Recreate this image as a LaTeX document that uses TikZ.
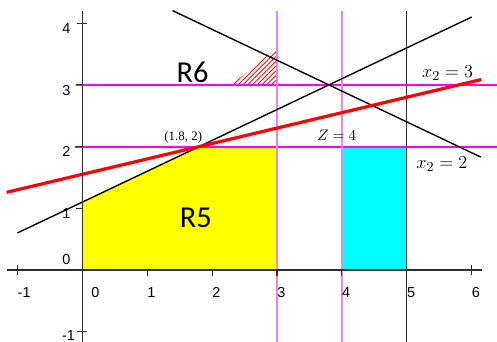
\documentclass[tikz,border=0pt]{standalone}
\usepackage{fontspec}
\usepackage{amsmath}
\usetikzlibrary{patterns.meta}
\newfontfamily\arialfont{Liberation Sans}
\newfontfamily\califont{Carlito}
\newfontfamily\timesfont{Liberation Serif}
\definecolor{linemagenta}{RGB}{255, 0, 255}
\definecolor{linepink}{RGB}{240, 130, 240}
\definecolor{regionyellow}{RGB}{255, 255, 0}
\definecolor{regioncyan}{RGB}{0, 255, 255}
\definecolor{axisgray}{RGB}{45, 45, 45}

\begin{document}
\begin{tikzpicture}[x=1.5cm, y=1.426cm,
				axisline/.style={axisgray, line width=0.7pt},
				bound/.style={black, line width=0.9pt},
				hline/.style={linemagenta, line width=1.2pt},
				vline/.style={linepink, line width=1.2pt},
				objline/.style={red, line width=2.1pt},
				ticklbl/.style={font=\arialfont\fontsize{9.5}{11}\selectfont, inner sep=0pt},
				regionlbl/.style={font=\califont\fontsize{20}{22}\selectfont},
				eqlbl/.style={font=\fontsize{12.5}{14}\selectfont}
				]
				\useasboundingbox (-1.268,-1.167) rectangle (6.390,4.376);
				\fill[regionyellow] (0,0) -- (3,0) -- (3,2) -- (1.8,2) -- (0,1.1) -- cycle;
				\filldraw[fill=regioncyan, draw=axisgray, line width=0.6pt] (4,0) rectangle (5,2);
				\fill[pattern={Lines[angle=45, distance=2.2pt, line width=0.6pt]}, pattern color=red]
				(2.3,3) -- (3,3) -- (3,3.6) -- cycle;
				\draw[hline] (-0.09,3) -- (6.39,3);
				\draw[hline] (-0.12,2) -- (6.39,2);
				\draw[vline] (3,4.2) -- (3,-1.167);
				\draw[vline] (4,4.2) -- (4,-1.167);
				\draw[axisline, line width=0.9pt] (5,4.2) -- (5,-1.167);
				\draw[bound] (-1,0.6) -- (6,4.1);
				\draw[bound] (1.39,4.205) -- (6.14,1.83);
				\draw[objline] (-1.165,1.259) -- (6.15,3.0875);
				\draw[axisline] (-1.16,0) -- (6.16,0);
				\draw[axisline] (0,-1.167) -- (0,4.2);
				\foreach \i in {1,2,3,4,5}
				\draw[axisline] (\i,0) -- (\i,-0.1);
				\foreach \i in {-1,6}
				\draw[axisline] (\i,0.08) -- (\i,-0.08);
				\foreach \j in {1,2,3}
				\draw[axisline] (0,\j) -- (-0.09,\j);
				\foreach \j in {-1,4}
				\draw[axisline] (0.08,\j) -- (-0.08,\j);
				\node[ticklbl, anchor=north west] (xm1) at (-1,-0.28) {-1};
				\node[ticklbl, anchor=north west] (x0) at (0.134,-0.28) {0};
				\foreach \i in {1,...,6}
				\node[ticklbl, anchor=north west] (x\i) at (\i,-0.28) {\i};
				\node[ticklbl, anchor=south east] (ym1) at (-0.11,-1.15) {-1};
				\node[ticklbl, anchor=north east] (y0) at (-0.18,0.25) {0};
				\foreach \j in {1,...,4}
				\node[ticklbl, anchor=north east] (y\j) at (-0.18,\j) {\j};
				\node[regionlbl] (r6) at (1.70,3.21) {R6};
				\node[regionlbl] (r5) at (1.75,0.84) {R5};
				\node[font=\timesfont\fontsize{8.5}{10}\selectfont] (pt) at (1.556,2.15) {(1.8, 2)};
				\node[font=\fontsize{10}{12}\selectfont] (zval) at (3.92,2.19) {$Z = 4$};
				\node[eqlbl] (eq3) at (5.63,3.19) {$x_2 = 3$};
				\node[eqlbl] (eq2) at (5.54,1.71) {$x_2 = 2$};
			\end{tikzpicture}
\end{document}
